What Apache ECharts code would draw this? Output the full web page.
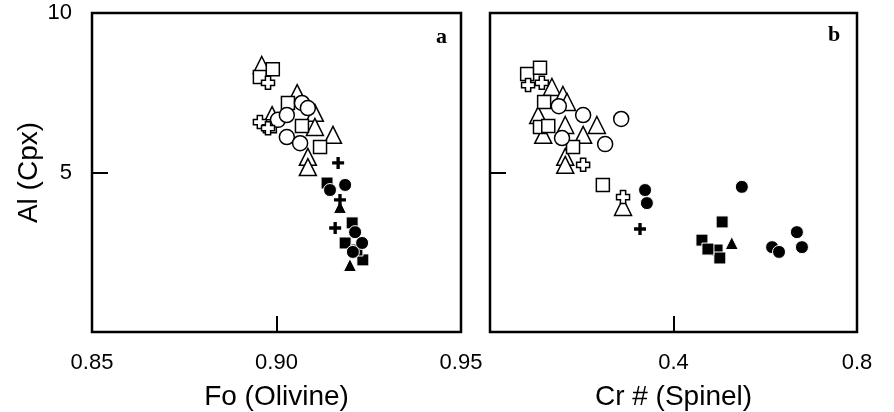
<!DOCTYPE html>
<html>
<head>
<meta charset="utf-8">
<script src="https://cdn.jsdelivr.net/npm/echarts@6/dist/echarts.min.js"></script>
<style>
html,body{margin:0;padding:0;background:#fff;}
#chart{width:894px;height:412px;}
</style>
</head>
<body>
<div id="chart"></div>
<script>
// ---------- Panel a: Fo (Olivine) vs Al (Cpx) ----------
const aOpenSquare   = [[0.8955,7.99],[0.8990,8.24],[0.9031,7.18],[0.9069,6.46],[0.9118,5.80],[0.8982,6.45]];
const aOpenCircle   = [[0.9069,7.18],[0.9085,7.02],[0.9004,6.65],[0.9028,6.80],[0.9028,6.11],[0.9064,5.92]];
const aOpenTriangle = [[0.8960,8.37],[0.9056,7.49],[0.9104,6.87],[0.9104,6.43],[0.8988,6.80],[0.9153,6.18],[0.9085,5.49],[0.9085,5.17]];
const aOpenCross    = [[0.8977,7.81],[0.8955,6.58],[0.8977,6.39]];
const aFillCross    = [[0.9167,5.30],[0.9172,4.14],[0.9159,3.26]];
const aFillSquare   = [[0.9137,4.67],[0.9205,3.42],[0.9186,2.79],[0.9234,2.26],[0.9218,2.57]];
const aFillCircle   = [[0.9145,4.45],[0.9186,4.61],[0.9213,3.13],[0.9232,2.79],[0.9207,2.51]];
const aFillTriangle = [[0.9172,3.92],[0.9199,2.10]];

// ---------- Panel b: Cr # (Spinel) vs Al (Cpx) ----------
const bOpenSquare   = [[0.081,8.09],[0.109,8.28],[0.118,7.21],[0.109,6.43],[0.127,6.46],[0.181,5.80],[0.246,4.61]];
const bOpenCircle   = [[0.150,7.08],[0.203,6.80],[0.286,6.68],[0.157,6.08],[0.251,5.89]];
const bOpenTriangle = [[0.135,7.68],[0.159,7.43],[0.168,7.21],[0.105,6.80],[0.233,6.49],[0.164,6.49],[0.116,6.18],[0.203,6.18],[0.164,5.49],[0.164,5.24],[0.290,3.92]];
const bOpenCross    = [[0.083,7.74],[0.113,7.81],[0.203,5.24],[0.290,4.23]];
const bFillCross    = [[0.327,3.23]];
const bFillSquare   = [[0.506,3.45],[0.462,2.88],[0.495,2.57],[0.501,2.32],[0.475,2.60]];
const bFillCircle   = [[0.338,4.45],[0.342,4.04],[0.549,4.55],[0.615,2.66],[0.630,2.51],[0.669,3.13],[0.680,2.66]];
const bFillTriangle = [[0.527,2.79]];

// tick label values
const aXTicks = [0.85, 0.90, 0.95];
const bXTicks = [0.4, 0.8];
const yTicks = [5, 10];

const OPEN_CROSS = 'path://M3,0H7V3H10V7H7V10H3V7H0V3H3Z';
const FILL_CROSS = 'path://M3.6,0H6.4V3.6H10V6.4H6.4V10H3.6V6.4H0V3.6H3.6Z';

function openStyle(){ return {color:'#fff', borderColor:'#000', borderWidth:1.5, opacity:1}; }
function fillStyle(){ return {color:'#000', borderColor:'#fff', borderWidth:1, opacity:1}; }

function mk(data, idx, symbol, size, style){
  return {type:'scatter', xAxisIndex:idx, yAxisIndex:idx, data:data, symbol:symbol,
          symbolSize:size, itemStyle:style, emphasis:{disabled:true}, silent:true};
}

function seriesFor(idx, d){
  return [
    mk(d.ot, idx, 'triangle', 17, openStyle()),
    mk(d.os, idx, 'rect', 13, openStyle()),
    mk(d.oc, idx, 'circle', 15, openStyle()),
    mk(d.ox, idx, OPEN_CROSS, 13, openStyle()),
    mk(d.fs, idx, 'rect', 12, fillStyle()),
    mk(d.fc, idx, 'circle', 13, fillStyle()),
    mk(d.ft, idx, 'triangle', 13, fillStyle()),
    mk(d.fx, idx, FILL_CROSS, 12, {color:'#000', borderWidth:0, opacity:1})
  ];
}

const labelFont = {fontFamily:'Liberation Sans', fontSize:22, color:'#000'};
const nameFont = {fontFamily:'Liberation Sans', fontSize:28, color:'#000'};

function xAxis(idx, min, max, interval, ticks, digits, name){
  return {type:'value', gridIndex:idx, min:min, max:max, interval:interval,
    name:name, nameLocation:'middle', nameGap:51,
    nameTextStyle:nameFont,
    axisLine:{show:false}, splitLine:{show:false},
    axisTick:{show:true, inside:true, length:16, lineStyle:{color:'#000', width:2}},
    axisLabel:Object.assign({margin:20, showMinLabel:true, showMaxLabel:true,
      formatter:function(v){
        for (const t of ticks){ if (Math.abs(v-t)<1e-9) return t.toFixed(digits); }
        return '';
      }}, labelFont)};
}

function yAxis(idx, showLabels){
  return {type:'value', gridIndex:idx, min:0, max:10, interval:5,
    name: showLabels ? 'Al (Cpx)' : '', nameLocation:'middle', nameGap:49,
    nameTextStyle:nameFont,
    axisLine:{show:false}, splitLine:{show:false},
    axisTick:{show:true, inside:true, length:16, lineStyle:{color:'#000', width:2}},
    axisLabel:Object.assign({show:showLabels, margin:20, padding:[10,0,0,0],
      formatter:function(v){ return yTicks.indexOf(v)>=0 ? String(v) : ''; }}, labelFont)};
}

const chart = echarts.init(document.getElementById('chart'), null, {renderer:'canvas'});
chart.setOption({
  animation:false,
  backgroundColor:'#fff',
  grid:[
    {left:92, right:433, top:13, bottom:80, containLabel:false, outerBoundsMode:'none',
     show:true, borderColor:'#000', borderWidth:2.5, backgroundColor:'transparent'},
    {left:490, right:37, top:13, bottom:80, containLabel:false, outerBoundsMode:'none',
     show:true, borderColor:'#000', borderWidth:2.5, backgroundColor:'transparent'}
  ],
  xAxis:[
    xAxis(0, 0.85, 0.95, 0.05, aXTicks, 2, 'Fo (Olivine)'),
    xAxis(1, 0, 0.8, 0.4, bXTicks, 1, 'Cr # (Spinel)')
  ],
  yAxis:[ yAxis(0, true), yAxis(1, false) ],
  graphic:[
    {type:'text', left:436, top:26, style:{text:'a', font:'bold 22px "Liberation Serif"', fill:'#000'}},
    {type:'text', left:828, top:24, style:{text:'b', font:'bold 22px "Liberation Serif"', fill:'#000'}}
  ],
  series:[].concat(
    seriesFor(0, {os:aOpenSquare, oc:aOpenCircle, ot:aOpenTriangle, ox:aOpenCross,
                  fs:aFillSquare, fc:aFillCircle, ft:aFillTriangle, fx:aFillCross}),
    seriesFor(1, {os:bOpenSquare, oc:bOpenCircle, ot:bOpenTriangle, ox:bOpenCross,
                  fs:bFillSquare, fc:bFillCircle, ft:bFillTriangle, fx:bFillCross})
  )
});
</script>
</body>
</html>
